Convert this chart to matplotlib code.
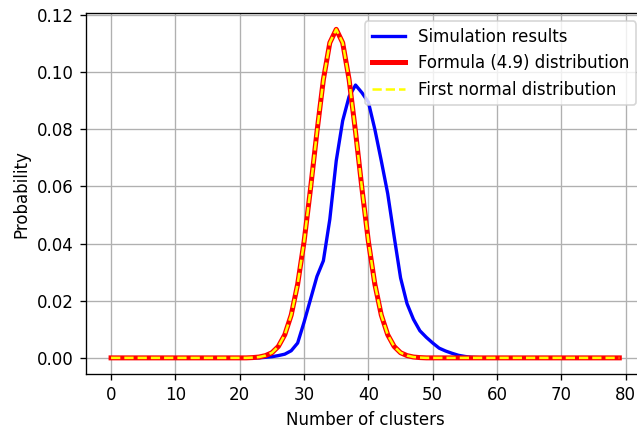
import matplotlib

matplotlib.use("Agg")
import matplotlib.pyplot as plt

# number of clusters 0..79
clusters = list(range(80))

# simulation results (non-zero part, clusters 24..57)
sim_start = 24
sim_nonzero = [
    0.0002, 0.0004, 0.0008, 0.0013, 0.0025, 0.0052, 0.0125, 0.0205,
    0.0285, 0.0340, 0.0485, 0.0690, 0.0830, 0.0915, 0.0955, 0.0928,
    0.0895, 0.0800, 0.0690, 0.0575, 0.0425, 0.0280, 0.0190, 0.0135,
    0.0095, 0.0072, 0.0052, 0.0034, 0.0024, 0.0016, 0.0009, 0.0005,
    0.0002, 0.0001,
]

# formula (4.9) distribution and first normal distribution (clusters 22..48)
dist_start = 22
formula_nonzero = [
    0.0001, 0.0003, 0.0008, 0.0018, 0.0040, 0.0081, 0.0150, 0.0258,
    0.0407, 0.0592, 0.0791, 0.0974, 0.1103, 0.1150, 0.1103, 0.0974,
    0.0791, 0.0592, 0.0407, 0.0258, 0.0150, 0.0081, 0.0040, 0.0018,
    0.0008, 0.0003, 0.0001,
]
normal_nonzero = [
    0.0001, 0.0003, 0.0008, 0.0018, 0.0040, 0.0081, 0.0150, 0.0258,
    0.0407, 0.0592, 0.0791, 0.0974, 0.1103, 0.1150, 0.1103, 0.0974,
    0.0791, 0.0592, 0.0407, 0.0258, 0.0150, 0.0081, 0.0040, 0.0018,
    0.0008, 0.0003, 0.0001,
]


def _pad(values, start, n=80):
    full = [0.0] * n
    full[start:start + len(values)] = values
    return full


simulation = _pad(sim_nonzero, sim_start)
formula = _pad(formula_nonzero, dist_start)
normal = _pad(normal_nonzero, dist_start)

fig = plt.figure(figsize=(637 / 120, 429 / 120), dpi=120)
# axes runs a bit past the right edge, as in the cropped original
ax = fig.add_axes([0.1345, 0.1275, 0.8776, 0.8424])

ax.plot(clusters, simulation, color="blue", lw=2, label="Simulation results")
ax.plot(clusters, formula, color="red", lw=3, label="Formula (4.9) distribution")
ax.plot(clusters, normal, color="yellow", lw=1.5, ls="--", label="First normal distribution")

ax.set_xticks(range(0, 81, 10))
ax.set_xlabel("Number of clusters")
ax.set_ylabel("Probability")
ax.grid(True)
ax.legend(loc="upper right")

fig.savefig("out.png", dpi=120)
plt.close(fig)
